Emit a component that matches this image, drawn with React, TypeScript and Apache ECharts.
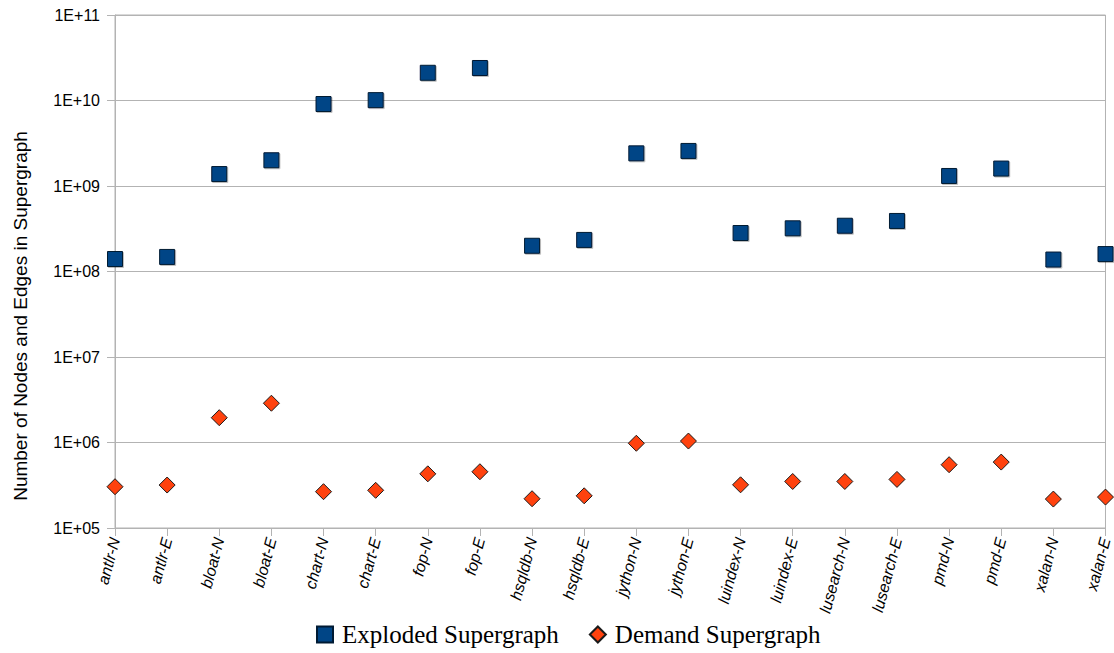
import React, { useEffect, useRef } from "react";
import * as echarts from "echarts";

const categories = [
  "antlr-N", "antlr-E", "bloat-N", "bloat-E", "chart-N", "chart-E", "fop-N", "fop-E",
  "hsqldb-N", "hsqldb-E", "jython-N", "jython-E", "luindex-N", "luindex-E",
  "lusearch-N", "lusearch-E", "pmd-N", "pmd-E", "xalan-N", "xalan-E",
];

const exploded = [
  1.4e8, 1.48e8, 1.38e9, 2.0e9, 9.1e9, 1.01e10, 2.11e10, 2.4e10,
  2.0e8, 2.34e8, 2.41e9, 2.57e9, 2.82e8, 3.2e8,
  3.43e8, 3.9e8, 1.31e9, 1.6e9, 1.38e8, 1.6e8,
];

const demand = [
  3.04e5, 3.18e5, 1.95e6, 2.88e6, 2.66e5, 2.76e5, 4.3e5, 4.55e5,
  2.2e5, 2.38e5, 9.8e5, 1.04e6, 3.2e5, 3.5e5,
  3.5e5, 3.7e5, 5.5e5, 5.9e5, 2.18e5, 2.3e5,
];

const seriesNames = ["Exploded Supergraph", "Demand Supergraph"];
const yAxisTitle = "Number of Nodes and Edges in Supergraph";

const SANS = "'Liberation Sans', Arial, sans-serif";
const SERIF = "'Liberation Serif', 'Times New Roman', serif";

function fmtTick(v: number): string {
  const e = Math.round(Math.log10(v));
  return "1E+" + (e < 10 ? "0" + e : String(e));
}

export default function App() {
  const ref = useRef<HTMLDivElement>(null);
  useEffect(() => {
    if (!ref.current) return;
    const chart = echarts.init(ref.current, undefined, { renderer: "svg" });
    const gridColor = "#b3b3b3";
    chart.setOption({
      animation: false,
      backgroundColor: "#ffffff",
      grid: {
        left: 115,
        right: 7,
        top: 15,
        bottom: 125,
        show: true,
        borderColor: gridColor,
        borderWidth: 1,
        backgroundColor: "transparent",
      },
      graphic: [
        {
          type: "text",
          x: 20,
          y: 316,
          rotation: Math.PI / 2,
          style: {
            text: yAxisTitle,
            font: "19px " + SANS,
            fill: "#000",
            align: "center",
            verticalAlign: "middle",
          },
        },
      ],
      legend: {
        bottom: 1,
        left: 311,
        itemWidth: 16,
        itemHeight: 16,
        itemGap: 30,
        textStyle: {
          fontFamily: SERIF,
          fontSize: 25,
          color: "#000",
          padding: [0, 0, 0, 4],
        },
        data: [
          { name: seriesNames[0], icon: "rect", itemStyle: { opacity: 1 } },
          { name: seriesNames[1], icon: "diamond", itemStyle: { opacity: 1 } },
        ],
      },
      xAxis: {
        type: "category",
        data: categories,
        boundaryGap: false,
        axisLine: { show: true, lineStyle: { color: gridColor } },
        axisTick: { show: true, length: 8, lineStyle: { color: gridColor } },
        splitLine: { show: false },
        axisLabel: {
          rotate: 75,
          interval: 0,
          margin: 10,
          fontFamily: SANS,
          fontStyle: "italic",
          fontSize: 16,
          color: "#000",
        },
      },
      yAxis: {
        type: "log",
        logBase: 10,
        min: 1e5,
        max: 1e11,
        axisLine: { show: true, lineStyle: { color: gridColor } },
        axisTick: { show: true, length: 8, lineStyle: { color: gridColor } },
        splitLine: { show: true, lineStyle: { color: gridColor } },
        axisLabel: {
          formatter: (v: number) => fmtTick(v),
          fontFamily: SANS,
          fontSize: 16,
          margin: 15,
          color: "#000",
        },
      },
      series: [
        {
          name: seriesNames[0],
          type: "scatter",
          data: exploded,
          symbol: "rect",
          symbolSize: 15,
          itemStyle: {
            color: "#004586",
            opacity: 1,
            borderColor: "#001a33",
            borderWidth: 1,
            shadowColor: "rgba(0,0,0,0.25)",
            shadowOffsetX: 1,
            shadowOffsetY: 1,
          },
        },
        {
          name: seriesNames[1],
          type: "scatter",
          data: demand,
          symbol: "diamond",
          symbolSize: 16,
          itemStyle: {
            color: "#ff420e",
            opacity: 1,
            borderColor: "#1a1a1a",
            borderWidth: 1,
          },
        },
      ],
    });
    return () => chart.dispose();
  }, []);
  return <div ref={ref} style={{ width: 1114, height: 653, position: "absolute", left: 0, top: 0 }} />;
}
